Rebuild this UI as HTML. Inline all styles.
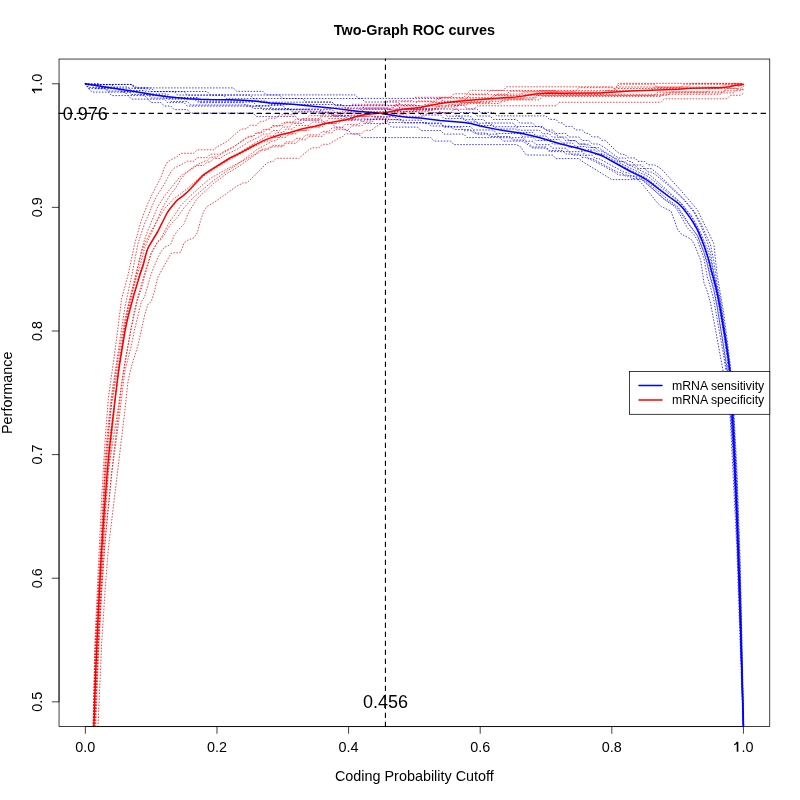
<!DOCTYPE html><html><head><meta charset="utf-8"><style>html,body{margin:0;padding:0;background:#fff;width:800px;height:800px;overflow:hidden}svg{display:block;will-change:transform}text{font-family:"Liberation Sans",sans-serif}</style></head><body><svg width="800" height="800" viewBox="0 0 800 800"><rect width="800" height="800" fill="#fff"/><defs><clipPath id="pc"><rect x="59.04" y="59.04" width="710.72" height="667.52"/></clipPath></defs><g clip-path="url(#pc)"><path d="M85.4,83.8 88.7,84.4 131.4,84.4 138.0,87.9 233.4,87.9 236.7,91.4 263.0,91.4 266.3,94.9 355.2,94.9 358.5,98.4 440.7,98.4 444.0,101.9 450.6,101.9 453.9,105.4 463.8,105.4 467.0,108.9 476.9,108.9 480.2,112.4 493.4,112.4 496.7,115.9 546.0,115.9 549.3,119.4 555.9,119.4 559.2,122.9 562.5,122.9 565.8,126.4 572.3,126.4 575.6,129.9 582.2,129.9 585.5,133.4 588.8,133.4 592.1,136.9 598.7,136.9 601.9,140.4 605.2,140.2 615.1,150.1 618.4,152.8 621.7,154.4 625.0,154.4 628.3,157.9 634.8,157.9 638.1,161.4 644.7,161.4 648.0,164.9 654.6,164.9 661.2,168.8 680.9,190.5 697.4,209.9 713.8,243.6 717.1,274.7 723.7,313.1 730.3,364.3 733.6,407.5 736.8,467.2 740.1,559.7 743.9,726.6" stroke="#0000ff" stroke-width="0.75" stroke-dasharray="0.75 2.25" stroke-linecap="round" fill="none"/>
<path d="M85.4,83.8 88.7,84.5 131.4,84.5 134.7,88.0 151.2,88.0 154.5,91.5 207.1,91.5 210.4,95.0 279.5,95.0 282.8,98.5 361.7,98.5 365.0,102.0 397.9,102.0 401.2,105.5 421.0,105.5 424.3,109.0 437.4,109.0 440.7,112.5 453.9,112.5 457.2,116.0 470.3,116.0 473.6,119.5 483.5,119.5 486.8,123.0 513.1,123.0 516.4,126.5 542.7,126.5 546.0,130.0 552.6,130.0 555.9,133.5 565.8,133.5 569.0,137.0 578.9,137.0 582.2,140.5 588.8,140.5 592.1,144.0 598.7,144.0 605.2,148.1 618.4,158.0 625.0,158.0 628.3,161.5 631.6,161.5 634.8,165.0 641.4,165.0 644.7,168.5 651.3,168.5 657.9,174.0 677.6,192.9 684.2,199.5 694.1,211.2 700.7,223.1 710.5,244.6 713.8,261.1 717.1,284.1 720.4,299.5 727.0,345.0 730.3,371.7 733.6,420.1 736.8,478.2 740.1,569.3 743.7,726.6" stroke="#0000ff" stroke-width="0.75" stroke-dasharray="0.75 2.25" stroke-linecap="round" fill="none"/>
<path d="M85.4,83.8 88.7,84.5 131.4,84.5 134.7,88.0 147.9,88.0 151.2,91.5 174.2,91.5 177.5,95.0 249.9,95.0 253.2,98.5 302.5,98.5 305.8,102.0 332.1,102.0 335.4,105.5 361.7,105.5 365.0,109.0 457.2,109.0 460.5,112.5 473.6,112.5 476.9,116.0 490.1,116.0 493.4,119.5 516.4,119.5 519.7,123.0 532.8,123.0 536.1,126.5 539.4,126.5 555.9,134.5 559.2,137.0 565.8,137.0 569.0,140.5 575.6,140.5 578.9,144.0 585.5,144.0 588.8,147.5 595.4,147.5 598.7,151.0 601.9,151.2 615.1,158.6 618.4,161.5 625.0,161.5 628.3,165.0 634.8,165.0 638.1,168.5 644.7,168.5 648.0,172.0 651.3,172.0 654.6,174.1 667.8,184.9 680.9,197.0 684.2,200.3 694.1,212.4 700.7,225.5 703.9,233.3 707.2,241.6 710.5,252.8 713.8,273.3 720.4,305.7 727.0,346.4 730.3,370.3 733.6,414.2 736.8,493.6 740.1,586.3 743.6,726.6" stroke="#0000ff" stroke-width="0.75" stroke-dasharray="0.75 2.25" stroke-linecap="round" fill="none"/>
<path d="M85.4,83.8 88.7,84.7 111.7,84.7 115.0,88.2 144.6,88.2 147.9,91.7 184.1,91.7 187.4,95.2 223.6,95.2 226.8,98.7 256.5,98.7 259.7,102.2 332.1,102.2 335.4,105.7 397.9,105.7 401.2,109.2 427.6,109.2 430.8,112.7 444.0,112.7 447.3,116.2 460.5,116.2 463.8,119.7 473.6,119.7 476.9,123.2 490.1,123.2 493.4,126.7 516.4,126.7 519.7,130.2 539.4,130.2 542.7,133.7 549.3,133.7 552.6,137.2 562.5,137.2 565.8,140.7 575.6,140.7 578.9,144.2 588.8,144.2 592.1,147.7 598.7,147.7 601.9,150.1 615.1,158.2 648.0,174.1 651.3,176.1 680.9,202.7 690.8,214.9 697.4,226.1 700.7,232.8 707.2,248.3 710.5,259.0 720.4,302.8 727.0,344.6 730.3,370.4 733.6,429.0 740.1,584.3 743.5,726.6" stroke="#0000ff" stroke-width="0.75" stroke-dasharray="0.75 2.25" stroke-linecap="round" fill="none"/>
<path d="M85.4,83.8 98.5,83.5 101.8,87.0 128.1,87.0 131.4,90.5 144.6,90.5 147.9,94.0 167.6,94.0 170.9,97.5 197.2,97.5 200.5,101.0 266.3,101.0 269.6,104.5 342.0,104.5 345.3,108.0 388.1,108.0 391.4,111.5 417.7,111.5 421.0,115.0 440.7,115.0 444.0,118.5 463.8,118.5 467.0,122.0 476.9,122.0 480.2,125.5 493.4,125.5 496.7,129.0 516.4,129.0 519.7,132.5 532.8,132.5 536.1,136.0 546.0,136.0 549.3,139.5 559.2,139.5 562.5,143.0 572.3,143.0 575.6,146.5 585.5,146.5 588.8,150.0 595.4,150.0 598.7,153.5 601.9,153.4 611.8,158.9 631.6,168.8 648.0,176.4 680.9,203.4 690.8,215.8 697.4,227.5 703.9,243.3 707.2,253.4 717.1,293.6 720.4,311.3 727.0,351.4 730.3,380.9 733.6,430.7 736.8,497.7 743.4,726.6" stroke="#0000ff" stroke-width="0.75" stroke-dasharray="0.75 2.25" stroke-linecap="round" fill="none"/>
<path d="M85.4,83.8 88.7,84.5 95.2,84.5 98.5,88.0 118.3,88.0 121.6,91.5 138.0,91.5 141.3,95.0 161.0,95.0 164.3,98.5 193.9,98.5 197.2,102.0 253.2,102.0 256.5,105.5 282.8,105.5 286.1,109.0 319.0,109.0 322.3,112.5 338.7,112.5 342.0,116.0 361.7,116.0 365.0,119.5 401.2,119.5 404.5,123.0 440.7,123.0 444.0,126.5 470.3,126.5 473.6,130.0 493.4,130.0 496.7,133.5 519.7,133.5 523.0,137.0 532.8,137.0 536.1,140.5 549.3,140.5 552.6,144.0 565.8,144.0 569.0,147.5 578.9,147.5 582.2,151.0 592.1,151.0 595.4,154.5 601.9,154.5 605.2,156.9 631.6,170.8 644.7,177.2 648.0,179.3 677.6,202.9 680.9,205.9 690.8,219.3 697.4,230.6 703.9,246.9 707.2,256.9 717.1,296.4 723.7,334.5 727.0,357.1 730.3,393.5 733.6,452.1 736.8,525.1 740.1,615.5 743.4,726.6" stroke="#0000ff" stroke-width="0.75" stroke-dasharray="0.75 2.25" stroke-linecap="round" fill="none"/>
<path d="M85.4,83.8 88.7,85.2 91.9,85.2 95.2,88.7 118.3,88.7 121.6,92.2 144.6,92.2 147.9,95.7 167.6,95.7 170.9,99.2 197.2,99.2 200.5,102.7 243.3,102.7 246.6,106.2 269.6,106.2 272.9,109.7 332.1,109.7 335.4,113.2 368.3,113.2 371.6,116.7 394.7,116.7 397.9,120.2 421.0,120.2 424.3,123.7 440.7,123.7 444.0,127.2 460.5,127.2 463.8,130.7 473.6,130.7 476.9,134.2 496.7,134.2 499.9,137.7 523.0,137.7 526.3,141.2 532.8,141.2 536.1,144.7 549.3,144.7 552.6,148.2 565.8,148.2 569.0,151.7 582.2,151.7 585.5,155.2 592.1,155.2 595.4,158.7 598.7,158.5 625.0,172.7 628.3,172.7 631.6,176.2 638.1,176.2 644.7,180.1 667.8,199.5 677.6,206.4 690.8,226.5 697.4,235.6 703.9,252.5 707.2,264.2 710.5,278.9 713.8,290.2 717.1,306.8 727.0,367.3 730.3,399.0 733.6,448.2 736.8,521.9 743.4,726.6" stroke="#0000ff" stroke-width="0.75" stroke-dasharray="0.75 2.25" stroke-linecap="round" fill="none"/>
<path d="M85.4,83.8 88.7,87.5 105.1,87.5 108.4,91.0 128.1,91.0 131.4,94.5 147.9,94.5 151.2,98.0 167.6,98.0 170.9,101.5 187.4,101.5 190.7,105.0 249.9,105.0 253.2,108.5 289.4,108.5 292.7,112.0 328.8,112.0 332.1,115.5 348.6,115.5 351.9,119.0 384.8,119.0 388.1,122.5 427.6,122.5 430.8,126.0 450.6,126.0 453.9,129.5 470.3,129.5 473.6,133.0 486.8,133.0 490.1,136.5 509.8,136.5 513.1,140.0 523.0,140.0 526.3,141.7 532.8,147.0 546.0,147.0 549.3,150.5 562.5,150.5 565.8,154.0 578.9,154.0 582.2,157.5 585.5,157.5 595.4,161.7 615.1,172.5 618.4,175.0 628.3,175.0 631.6,178.5 638.1,178.5 641.4,179.4 664.5,199.1 674.3,205.3 677.6,208.1 687.5,222.7 697.4,235.5 703.9,251.8 707.2,262.5 710.5,277.3 713.8,288.9 717.1,305.6 723.7,347.9 727.0,372.5 730.3,404.8 733.6,459.0 736.8,527.6 740.1,618.7 743.3,726.6" stroke="#0000ff" stroke-width="0.75" stroke-dasharray="0.75 2.25" stroke-linecap="round" fill="none"/>
<path d="M85.4,83.8 88.7,88.6 105.1,88.6 108.4,92.1 124.8,92.1 128.1,95.6 144.6,95.6 147.9,99.1 164.3,99.1 167.6,102.6 184.1,102.6 187.4,106.1 259.7,106.1 263.0,109.6 309.1,109.6 312.4,113.1 332.1,113.1 335.4,116.6 345.3,116.6 348.6,120.1 361.7,120.1 365.0,123.6 388.1,123.6 391.4,127.1 417.7,127.1 421.0,130.6 440.7,130.6 444.0,134.1 463.8,134.1 467.0,137.6 499.9,137.6 503.2,141.1 523.0,141.1 529.6,146.1 532.8,148.1 546.0,148.1 549.3,151.6 569.0,151.6 572.3,155.1 585.5,155.1 588.8,158.6 592.1,158.6 618.4,172.6 621.7,172.6 625.0,176.1 634.8,176.1 638.1,179.6 641.4,179.1 644.7,181.5 664.5,199.7 674.3,206.3 677.6,210.4 687.5,227.9 694.1,234.8 697.4,240.4 703.9,258.1 707.2,276.7 710.5,287.2 713.8,300.2 723.7,355.8 727.0,378.2 730.3,406.2 733.6,460.3 736.8,528.6 740.1,622.1 743.2,726.6" stroke="#0000ff" stroke-width="0.75" stroke-dasharray="0.75 2.25" stroke-linecap="round" fill="none"/>
<path d="M85.4,83.8 88.7,88.6 91.9,92.1 108.4,92.1 111.7,95.6 128.1,95.6 131.4,99.1 147.9,99.1 151.2,102.6 161.0,102.6 164.3,106.1 170.9,106.1 174.2,109.6 187.4,109.6 190.7,113.1 253.2,113.1 256.5,116.6 295.9,116.6 299.2,120.1 322.3,120.1 325.6,123.6 332.1,123.6 335.4,127.1 342.0,127.1 345.3,130.6 348.6,130.6 351.9,134.1 358.5,134.1 361.7,137.6 430.8,137.6 434.1,141.1 450.6,141.1 453.9,144.6 516.4,144.6 519.7,146.0 526.3,155.0 552.6,155.1 555.9,158.6 578.9,158.6 582.2,161.4 611.8,179.6 638.1,179.6 641.4,183.0 657.9,203.4 661.2,206.5 671.0,211.1 677.6,229.4 680.9,233.7 690.8,239.1 694.1,243.9 700.7,260.1 703.9,282.5 707.2,291.1 710.5,302.8 723.7,374.3 727.0,395.0 730.3,419.0 736.8,547.0 743.0,726.6" stroke="#0000ff" stroke-width="0.75" stroke-dasharray="0.75 2.25" stroke-linecap="round" fill="none"/>
<path d="M93.0,726.6 95.2,635.4 101.8,495.1 105.1,440.4 108.4,397.9 115.0,350.9 121.6,298.9 128.1,274.7 134.7,243.8 141.3,220.4 147.9,203.3 151.2,196.2 161.0,177.1 164.3,167.9 167.6,161.8 177.5,156.4 180.8,153.3 193.9,153.3 197.2,149.8 213.7,149.8 217.0,146.9 226.8,141.6 240.0,130.0 243.3,128.8 246.6,128.8 249.9,125.3 256.5,125.3 259.7,121.8 263.0,121.5 269.6,118.3 276.2,118.3 279.5,114.8 295.9,114.8 299.2,111.3 322.3,111.3 325.6,107.8 348.6,107.8 351.9,104.3 384.8,104.3 388.1,100.8 411.1,100.8 414.4,97.3 450.6,97.3 453.9,93.8 467.0,93.8 470.3,90.3 503.2,90.3 506.5,86.8 611.8,86.8 615.1,88.5 618.4,83.4 743.4,83.4" stroke="#ff0000" stroke-width="0.75" stroke-dasharray="0.75 2.25" stroke-linecap="round" fill="none"/>
<path d="M93.3,726.6 95.2,645.1 101.8,527.3 105.1,459.4 108.4,422.6 111.7,394.5 124.8,307.7 131.4,277.3 138.0,243.2 144.6,223.7 154.5,200.5 157.7,194.5 164.3,184.2 170.9,171.7 174.2,168.1 184.1,163.2 187.4,161.2 193.9,161.2 197.2,157.7 207.1,157.7 210.4,154.2 220.3,154.2 223.6,151.5 233.4,146.9 246.6,138.0 249.9,136.7 253.2,136.7 256.5,133.2 259.7,133.2 263.0,129.7 269.6,129.7 272.9,126.2 279.5,126.2 282.8,122.7 292.7,122.7 295.9,119.2 305.8,119.2 309.1,115.7 322.3,115.7 325.6,112.2 342.0,112.2 345.3,108.7 361.7,108.7 365.0,105.2 397.9,105.2 401.2,101.7 434.1,101.7 437.4,98.2 467.0,98.2 470.3,94.7 506.5,94.7 509.8,91.2 575.6,91.2 578.9,87.7 611.8,87.7 615.1,89.3 618.4,85.4 621.7,84.2 654.6,84.2 657.9,87.7 680.9,87.7 684.2,84.2 740.1,84.2 743.4,83.8" stroke="#ff0000" stroke-width="0.75" stroke-dasharray="0.75 2.25" stroke-linecap="round" fill="none"/>
<path d="M93.3,726.6 95.2,651.2 105.1,472.5 111.7,400.0 118.3,356.5 124.8,319.9 128.1,305.7 141.3,261.0 144.6,247.7 154.5,226.5 161.0,210.7 164.3,204.4 170.9,194.0 174.2,189.9 177.5,184.9 180.8,179.2 184.1,175.2 190.7,169.0 193.9,166.5 203.8,161.4 207.1,160.6 210.4,157.1 217.0,157.1 220.3,154.5 233.4,147.2 246.6,137.6 249.9,136.1 253.2,136.1 256.5,132.6 263.0,132.6 266.3,129.1 269.6,129.1 272.9,125.6 282.8,125.6 286.1,122.1 299.2,122.1 302.5,118.6 319.0,118.6 322.3,115.1 342.0,115.1 345.3,111.6 361.7,111.6 365.0,108.1 391.4,108.1 394.7,104.6 414.4,104.6 417.7,101.1 437.4,101.1 440.7,97.6 463.8,97.6 467.0,94.1 486.8,94.1 490.1,90.6 611.8,90.6 615.1,90.0 618.4,87.0 687.5,87.1 690.8,83.6 740.1,83.6 743.4,83.9" stroke="#ff0000" stroke-width="0.75" stroke-dasharray="0.75 2.25" stroke-linecap="round" fill="none"/>
<path d="M93.7,726.6 95.2,664.1 101.8,545.0 105.1,469.1 108.4,431.6 111.7,403.8 124.8,326.7 141.3,251.0 144.6,239.4 147.9,230.2 157.7,206.8 164.3,196.2 180.8,175.9 197.2,165.5 203.8,165.5 207.1,162.0 210.4,162.0 213.7,158.5 220.3,158.5 223.6,156.0 226.8,154.2 236.7,149.5 249.9,141.3 259.7,136.6 263.0,134.0 269.6,134.0 272.9,130.5 279.5,130.5 282.8,127.0 289.4,127.0 292.7,123.5 302.5,123.5 305.8,120.0 319.0,120.0 322.3,116.5 338.7,116.5 342.0,113.0 355.2,113.0 358.5,109.5 391.4,109.5 394.7,106.0 427.6,106.0 430.8,102.5 457.2,102.5 460.5,99.0 490.1,99.0 493.4,95.5 519.7,95.5 523.0,92.0 615.1,92.0 618.4,88.5 720.4,88.5 723.7,85.0 740.1,85.0 743.4,84.2" stroke="#ff0000" stroke-width="0.75" stroke-dasharray="0.75 2.25" stroke-linecap="round" fill="none"/>
<path d="M93.7,726.6 95.2,672.3 98.5,615.8 105.1,481.2 108.4,448.5 124.8,325.6 128.1,306.5 131.4,291.8 141.3,253.5 144.6,243.6 151.2,231.0 164.3,208.9 174.2,198.2 180.8,193.7 187.4,188.4 203.8,174.0 230.1,157.5 240.0,152.2 253.2,144.0 263.0,138.5 266.3,136.1 272.9,136.1 276.2,132.6 282.8,132.6 286.1,129.1 292.7,129.1 295.9,125.6 309.1,125.6 312.4,122.1 325.6,122.1 328.8,118.6 345.3,118.6 348.6,115.1 365.0,115.1 368.3,111.6 394.7,111.6 397.9,108.1 421.0,108.1 424.3,104.6 437.4,104.6 440.7,101.1 463.8,101.1 467.0,97.6 493.4,97.6 496.7,94.1 536.1,94.1 539.4,90.6 555.9,90.6 559.2,94.1 601.9,94.1 605.2,90.6 651.3,90.6 654.6,87.1 730.3,87.1 733.6,83.6 740.1,83.6 743.4,84.4" stroke="#ff0000" stroke-width="0.75" stroke-dasharray="0.75 2.25" stroke-linecap="round" fill="none"/>
<path d="M94.8,726.6 98.5,630.8 101.8,566.6 108.4,471.5 115.0,401.0 118.3,372.1 121.6,349.7 124.8,329.9 131.4,301.0 138.0,278.7 147.9,247.5 157.7,230.7 167.6,212.1 177.5,200.3 184.1,195.4 203.8,176.0 207.1,173.5 230.1,159.3 253.2,147.0 263.0,142.2 266.3,141.1 269.6,141.1 272.9,137.6 279.5,137.6 282.8,134.1 292.7,134.1 295.9,130.6 305.8,130.6 309.1,127.1 319.0,127.1 322.3,123.6 335.4,123.6 338.7,120.1 351.9,120.1 355.2,116.6 368.3,116.6 371.6,113.1 391.4,113.1 394.7,109.6 421.0,109.6 424.3,106.1 440.7,106.1 444.0,102.6 480.2,102.6 483.5,99.1 532.8,99.1 536.1,95.6 654.6,95.6 657.9,92.1 707.2,92.1 710.5,88.6 736.8,88.6 740.1,85.1 743.4,86.5" stroke="#ff0000" stroke-width="0.75" stroke-dasharray="0.75 2.25" stroke-linecap="round" fill="none"/>
<path d="M94.3,726.6 95.2,698.8 101.8,576.7 105.1,508.3 108.4,470.3 118.3,407.2 121.6,383.3 131.4,325.9 134.7,309.3 138.0,296.1 144.6,273.4 151.2,252.9 157.7,242.1 161.0,239.4 164.3,234.8 167.6,228.6 170.9,224.3 177.5,217.1 184.1,207.7 193.9,197.0 213.7,180.4 226.8,171.1 236.7,164.8 256.5,149.9 272.9,140.8 276.2,140.8 279.5,137.3 286.1,137.3 289.4,133.8 295.9,133.8 299.2,130.3 309.1,130.3 312.4,126.8 322.3,126.8 325.6,123.3 338.7,123.3 342.0,119.8 355.2,119.8 358.5,116.3 381.5,116.3 384.8,112.8 404.5,112.8 407.8,109.3 434.1,109.3 437.4,105.8 457.2,105.8 460.5,102.3 490.1,102.3 493.4,98.8 523.0,98.8 526.3,95.3 667.8,95.3 671.0,91.8 723.7,91.8 727.0,88.3 740.1,88.3 743.4,86.6" stroke="#ff0000" stroke-width="0.75" stroke-dasharray="0.75 2.25" stroke-linecap="round" fill="none"/>
<path d="M94.9,726.6 98.5,642.1 101.8,586.2 105.1,541.3 111.7,472.2 121.6,385.1 124.8,362.7 131.4,327.5 138.0,298.0 141.3,289.3 144.6,276.1 151.2,253.7 154.5,247.1 157.7,241.5 161.0,238.3 167.6,225.3 170.9,219.9 174.2,215.7 180.8,205.7 190.7,195.6 203.8,183.7 210.4,178.4 223.6,170.7 246.6,158.9 256.5,153.1 259.7,150.3 266.3,150.3 269.6,146.8 282.8,146.8 286.1,143.3 295.9,143.3 299.2,139.8 305.8,139.8 309.1,136.3 322.3,136.3 325.6,132.8 332.1,132.8 335.4,129.3 348.6,129.3 351.9,125.8 361.7,125.8 365.0,122.3 371.6,122.3 374.9,118.8 388.1,118.8 391.4,115.3 401.2,115.3 404.5,111.8 427.6,111.8 430.8,108.3 444.0,108.3 447.3,104.8 467.0,104.8 470.3,101.3 506.5,101.3 509.8,97.8 536.1,97.8 539.4,94.3 720.4,94.3 723.7,90.8 740.1,90.8 743.4,88.7" stroke="#ff0000" stroke-width="0.75" stroke-dasharray="0.75 2.25" stroke-linecap="round" fill="none"/>
<path d="M95.7,726.6 98.5,653.7 101.8,589.7 105.1,540.3 111.7,473.6 118.3,424.7 124.8,371.7 131.4,345.3 134.7,329.4 141.3,301.8 144.6,296.9 151.2,273.8 157.7,257.8 161.0,251.8 164.3,247.2 167.6,246.1 170.9,244.0 174.2,235.2 177.5,230.8 184.1,223.8 187.4,215.2 190.7,208.8 197.2,198.7 213.7,183.4 226.8,173.6 240.0,165.6 259.7,151.7 263.0,148.9 269.6,148.9 272.9,145.4 282.8,145.4 286.1,141.9 292.7,141.9 295.9,138.4 302.5,138.4 305.8,134.9 319.0,134.9 322.3,131.4 328.8,131.4 332.1,127.9 342.0,127.9 345.3,124.4 358.5,124.4 361.7,120.9 371.6,120.9 374.9,117.4 388.1,117.4 391.4,113.9 407.8,113.9 411.1,110.4 434.1,110.4 437.4,106.9 457.2,106.9 460.5,103.4 499.9,103.4 503.2,99.9 539.4,99.9 542.7,96.4 661.2,96.4 664.5,92.9 733.6,92.9 736.8,89.4 743.4,89.8" stroke="#ff0000" stroke-width="0.75" stroke-dasharray="0.75 2.25" stroke-linecap="round" fill="none"/>
<path d="M98.0,726.6 101.8,641.1 105.1,589.7 108.4,548.1 124.8,411.2 128.1,380.7 131.4,366.6 138.0,345.2 144.6,315.3 147.9,304.3 151.2,301.7 154.5,291.2 157.7,277.5 170.9,253.5 174.2,252.8 177.5,252.8 180.8,252.1 184.1,242.8 187.4,240.4 193.9,237.8 197.2,232.9 200.5,220.8 203.8,210.9 207.1,206.6 213.7,202.7 236.7,186.2 243.3,182.8 246.6,182.8 249.9,180.1 266.3,163.7 269.6,161.8 272.9,161.8 276.2,158.3 299.2,158.3 302.5,155.0 309.1,149.7 312.4,147.8 319.0,147.8 322.3,144.3 328.8,144.3 338.7,138.2 342.0,137.3 345.3,133.8 361.7,133.8 365.0,130.3 371.6,130.3 374.9,127.4 381.5,123.3 384.8,123.3 388.1,119.8 397.9,119.8 401.2,116.3 424.3,116.3 427.6,112.8 450.6,112.8 453.9,109.3 473.6,109.3 476.9,105.8 555.9,105.8 559.2,102.3 657.9,102.3 661.2,102.1 664.5,98.8 727.0,98.8 730.3,95.3 740.1,95.3 743.4,93.5" stroke="#ff0000" stroke-width="0.75" stroke-dasharray="0.75 2.25" stroke-linecap="round" fill="none"/>
<path d="M85.40,83.76 105.00,87.00 130.00,90.75 155.00,95.00 167.50,96.67 175.83,97.60 188.33,98.66 200.83,99.34 209.22,99.60 230.00,99.70 243.52,100.16 253.33,100.93 270.00,103.00 292.79,104.22 330.45,107.88 357.50,111.25 380.42,113.24 397.08,115.91 407.50,117.25 420.00,118.10 440.00,120.50 464.17,122.55 470.83,123.46 480.00,126.00 496.57,129.38 503.33,130.54 516.67,132.41 523.33,133.68 530.00,135.19 540.00,137.75 560.00,143.75 580.00,148.75 594.07,152.96 600.00,155.00 603.70,156.53 630.00,171.25 640.19,176.11 645.00,178.75 650.19,182.36 660.00,190.00 670.00,197.50 676.67,202.13 680.00,205.00 683.43,208.80 688.48,215.36 692.73,221.57 696.35,227.77 698.63,232.36 701.81,239.91 704.68,247.56 708.08,257.79 709.28,261.85 711.25,270.00 715.46,285.52 718.24,298.12 720.55,310.62 725.20,338.38 728.36,359.06 729.40,368.75 730.43,381.84 732.40,414.00 733.64,438.58 736.89,513.71 738.29,549.55 739.71,592.82 743.40,726.60" fill="none" stroke="#0000ff" stroke-width="1.5" stroke-linejoin="round" stroke-linecap="round"/>
<path d="M93.90,726.60 95.67,673.03 98.34,611.46 101.00,560.00 104.16,511.88 107.40,470.00 109.39,449.26 115.54,395.46 118.14,374.54 119.80,362.78 124.61,333.52 126.25,325.00 128.15,316.68 133.73,295.61 140.00,274.60 143.30,265.00 145.81,254.79 147.25,250.00 148.90,246.40 157.75,231.75 165.91,215.22 167.40,212.50 170.01,208.77 176.08,201.21 177.85,199.59 183.25,195.60 187.05,192.21 190.76,188.47 202.63,175.60 204.50,174.10 210.55,170.13 230.00,158.00 240.00,153.10 252.50,146.25 262.92,140.93 269.17,138.35 275.42,136.24 279.58,135.02 290.00,132.50 302.50,128.75 315.00,126.25 327.50,123.10 345.00,120.00 349.54,118.74 355.47,116.80 361.67,115.34 370.00,114.00 382.50,113.10 386.67,112.36 392.92,111.00 399.17,109.91 407.50,108.75 415.28,108.09 420.00,107.50 440.00,103.60 453.33,101.74 469.53,100.16 515.74,96.88 523.02,95.98 533.75,94.26 541.25,93.40 548.80,93.12 563.75,93.20 593.84,93.06 600.00,92.90 630.42,91.11 678.75,89.25 690.00,88.30 713.33,87.82 723.75,87.45 729.27,86.81 735.00,85.40 743.40,84.60" fill="none" stroke="#ff0000" stroke-width="1.5" stroke-linejoin="round" stroke-linecap="round"/></g><line x1="59.04" y1="113.43" x2="769.76" y2="113.43" stroke="#000" stroke-width="1.125" stroke-dasharray="4.5 4.5" stroke-linecap="round"/><line x1="385.44" y1="726.56" x2="385.44" y2="59.04" stroke="#000" stroke-width="1.125" stroke-dasharray="4.5 4.5" stroke-linecap="round"/><rect x="59.04" y="59.04" width="710.72" height="667.52" fill="none" stroke="#000" stroke-width="0.75"/><line x1="85.36" y1="726.56" x2="743.43" y2="726.56" stroke="#000" stroke-width="0.75"/><line x1="85.36" y1="726.56" x2="85.36" y2="733.76" stroke="#000" stroke-width="0.75"/><text x="85.36" y="751.86" font-size="14.4" text-anchor="middle">0.0</text><line x1="216.97" y1="726.56" x2="216.97" y2="733.76" stroke="#000" stroke-width="0.75"/><text x="216.97" y="751.86" font-size="14.4" text-anchor="middle">0.2</text><line x1="348.59" y1="726.56" x2="348.59" y2="733.76" stroke="#000" stroke-width="0.75"/><text x="348.59" y="751.86" font-size="14.4" text-anchor="middle">0.4</text><line x1="480.20" y1="726.56" x2="480.20" y2="733.76" stroke="#000" stroke-width="0.75"/><text x="480.20" y="751.86" font-size="14.4" text-anchor="middle">0.6</text><line x1="611.82" y1="726.56" x2="611.82" y2="733.76" stroke="#000" stroke-width="0.75"/><text x="611.82" y="751.86" font-size="14.4" text-anchor="middle">0.8</text><line x1="743.43" y1="726.56" x2="743.43" y2="733.76" stroke="#000" stroke-width="0.75"/><path transform="translate(733.43,751.86)" d="M3.3,-10 L4.9,-10 L4.9,0 L3.3,0 L3.3,-7.9 C2.5,-7.2 1.5,-6.8 0.6,-6.6 L0.6,-7.5 C1.9,-8.1 2.8,-9.0 3.3,-10 Z" fill="#000"/><text x="741.43" y="751.86" font-size="14.4">.0</text><line x1="59.04" y1="83.76" x2="59.04" y2="701.83" stroke="#000" stroke-width="0.75"/><line x1="51.84" y1="701.83" x2="59.04" y2="701.83" stroke="#000" stroke-width="0.75"/><text transform="translate(41.94,701.83) rotate(-90)" font-size="14.4" text-anchor="middle">0.5</text><line x1="51.84" y1="578.22" x2="59.04" y2="578.22" stroke="#000" stroke-width="0.75"/><text transform="translate(41.94,578.22) rotate(-90)" font-size="14.4" text-anchor="middle">0.6</text><line x1="51.84" y1="454.60" x2="59.04" y2="454.60" stroke="#000" stroke-width="0.75"/><text transform="translate(41.94,454.60) rotate(-90)" font-size="14.4" text-anchor="middle">0.7</text><line x1="51.84" y1="330.99" x2="59.04" y2="330.99" stroke="#000" stroke-width="0.75"/><text transform="translate(41.94,330.99) rotate(-90)" font-size="14.4" text-anchor="middle">0.8</text><line x1="51.84" y1="207.37" x2="59.04" y2="207.37" stroke="#000" stroke-width="0.75"/><text transform="translate(41.94,207.37) rotate(-90)" font-size="14.4" text-anchor="middle">0.9</text><line x1="51.84" y1="83.76" x2="59.04" y2="83.76" stroke="#000" stroke-width="0.75"/><path transform="translate(41.94,93.76) rotate(-90)" d="M3.3,-10 L4.9,-10 L4.9,0 L3.3,0 L3.3,-7.9 C2.5,-7.2 1.5,-6.8 0.6,-6.6 L0.6,-7.5 C1.9,-8.1 2.8,-9.0 3.3,-10 Z" fill="#000"/><text transform="translate(41.94,85.76) rotate(-90)" font-size="14.4">.0</text><text x="414.4" y="34.5" font-size="14.4" font-weight="bold" text-anchor="middle">Two-Graph ROC curves</text><text x="414.4" y="781" font-size="14.4" text-anchor="middle">Coding Probability Cutoff</text><text transform="translate(12,392.8) rotate(-90)" font-size="14.4" text-anchor="middle">Performance</text><text x="85.36" y="119.93" font-size="18" text-anchor="middle">0.976</text><text x="385.44" y="708.33" font-size="18" text-anchor="middle">0.456</text><rect x="629.45" y="371.45" width="140.31" height="42.85" fill="#fff" stroke="#000" stroke-width="0.75"/><line x1="639" y1="385.4" x2="662" y2="385.4" stroke="#0000ff" stroke-width="1.5" stroke-linecap="round"/><line x1="639" y1="400" x2="662" y2="400" stroke="#ff0000" stroke-width="1.5" stroke-linecap="round"/><text x="672" y="389.7" font-size="12.3">mRNA sensitivity</text><text x="672" y="404.3" font-size="12.3">mRNA specificity</text></svg></body></html>
